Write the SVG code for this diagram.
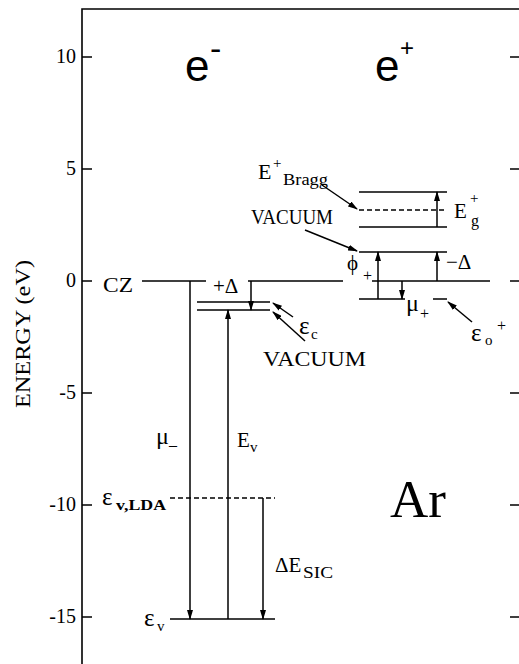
<svg xmlns="http://www.w3.org/2000/svg" width="519" height="664" viewBox="0 0 519 664">
<style>
.ln{stroke:#000;stroke-width:1.6;fill:none}
.dash{stroke:#000;stroke-width:1.5;fill:none;stroke-dasharray:5,3}
.ar{stroke:#000;stroke-width:1.5;fill:none;marker-end:url(#ah)}
.t{font-family:"Liberation Serif","Times New Roman",serif;fill:#000}
.s{font-family:"Liberation Sans",Arial,sans-serif;fill:#000}
.eps{font-family:"Liberation Serif","Times New Roman",serif;fill:#000;font-size:25px}
</style>
<defs>
<marker id="ah" viewBox="0 0 10 6" refX="9" refY="3" markerWidth="10" markerHeight="6" markerUnits="userSpaceOnUse" orient="auto"><path d="M0,0 L10,3 L0,6 z" fill="#000"/></marker>
</defs>
<rect width="519" height="664" fill="#fff"/>
<g id="axes">
<path class="ln" d="M82,664 V9 H519"/>
<path class="ln" d="M82,57 H92 M82,169 H92 M82,281 H92 M82,393 H92 M82,505 H92 M82,617 H92"/>
<path class="ln" d="M510,57 H519 M510,169 H519 M510,281 H519 M510,393 H519 M510,505 H519 M510,617 H519"/>
<g class="t" font-size="20" text-anchor="end">
<text x="76" y="63">10</text>
<text x="76" y="175">5</text>
<text x="76" y="287">0</text>
<text x="76" y="399">-5</text>
<text x="76" y="511">-10</text>
<text x="76" y="623">-15</text>
</g>
<text class="t" font-size="20" text-anchor="middle" transform="translate(30,334) rotate(-90)" textLength="148" lengthAdjust="spacingAndGlyphs">ENERGY (eV)</text>
</g>
<g id="title-eminus">
<text class="s" x="185" y="81" font-size="44">e</text>
<text class="s" x="210" y="60" font-size="34">-</text>
</g>
<g id="title-eplus">
<text class="s" x="375" y="81" font-size="44">e</text>
<text class="s" x="400" y="56" font-size="24">+</text>
</g>
<g id="label-Ar"><text class="t" x="390" y="517" font-size="53">Ar</text></g>
<g id="level-CZ">
<path class="ln" d="M142,281 H206 M248,281 H343"/>
<text class="t" x="103" y="292" font-size="21" textLength="30" lengthAdjust="spacingAndGlyphs">CZ</text>
<text class="t" x="213" y="293" font-size="21">+Δ</text>
</g>
<g id="level-eminus-eps-c"><path class="ln" d="M197,302 H270"/></g>
<g id="level-eminus-vacuum"><path class="ln" d="M197,310 H270"/></g>
<g id="label-eps-c">
<text class="eps" x="299" y="334">ε</text>
<text class="t" x="311" y="339" font-size="15">c</text>
</g>
<g id="label-eminus-vacuum"><text class="t" x="263" y="366" font-size="21" textLength="103" lengthAdjust="spacingAndGlyphs">VACUUM</text></g>
<g id="level-eps-v-LDA">
<path class="dash" d="M170,498 H275"/>
<text class="eps" x="102" y="505">ε</text>
<text class="t" x="116" y="510" font-size="15" font-weight="bold" textLength="50" lengthAdjust="spacingAndGlyphs">v,LDA</text>
</g>
<g id="level-eps-v">
<path class="ln" d="M170,619 H275"/>
<text class="eps" x="144" y="626">ε</text>
<text class="t" x="157" y="631" font-size="15">v</text>
</g>
<g id="label-mu-minus">
<text class="t" x="156" y="444" font-size="24">μ</text>
<text class="t" x="169" y="450" font-size="16">–</text>
</g>
<g id="label-Ev">
<text class="t" x="237" y="447" font-size="21">E</text>
<text class="t" x="250" y="452" font-size="15">v</text>
</g>
<g id="label-dE-SIC">
<text class="t" x="275" y="572" font-size="21">ΔE</text>
<text class="t" x="303" y="578" font-size="16" textLength="30" lengthAdjust="spacingAndGlyphs">SIC</text>
</g>
<g id="level-eplus-top"><path class="ln" d="M359,192 H447"/></g>
<g id="level-eplus-bragg"><path class="dash" d="M359,210 H447"/></g>
<g id="level-eplus-gap"><path class="ln" d="M359,227 H447"/></g>
<g id="level-eplus-vacuum"><path class="ln" d="M359,252 H447"/></g>
<g id="level-eplus-zero"><path class="ln" d="M372,281 H490"/></g>
<g id="level-eplus-bottom"><path class="ln" d="M359,299 H405 M433,299 H447"/></g>
<g id="label-Ebragg">
<text class="t" x="258" y="179" font-size="22">E</text>
<text class="t" x="273" y="168" font-size="15">+</text>
<text class="t" x="283" y="185" font-size="16" textLength="45" lengthAdjust="spacingAndGlyphs">Bragg</text>
</g>
<g id="label-eplus-vacuum"><text class="t" x="251" y="224" font-size="21" textLength="82" lengthAdjust="spacingAndGlyphs">VACUUM</text></g>
<g id="label-Eg">
<text class="t" x="454" y="218" font-size="21">E</text>
<text class="t" x="470" y="203" font-size="15">+</text>
<text class="t" x="471" y="226" font-size="16">g</text>
</g>
<g id="label-phi">
<text class="t" x="347" y="270" font-size="21">ϕ</text>
<text class="t" x="363" y="281" font-size="16">+</text>
</g>
<g id="label-minus-delta"><text class="t" x="446" y="269" font-size="21">−Δ</text></g>
<g id="label-mu-plus">
<text class="t" x="406" y="311" font-size="24">μ</text>
<text class="t" x="420" y="319" font-size="16">+</text>
</g>
<g id="label-eps-o">
<text class="eps" x="471" y="341">ε</text>
<text class="t" x="485" y="345" font-size="15">o</text>
<text class="t" x="497" y="331" font-size="16">+</text>
</g>
<g id="connectors">
<path class="ar" d="M190,281 V619"/>
<path class="ar" d="M228,619 V310"/>
<path class="ar" d="M251,281 V310"/>
<path class="ar" d="M263,498 V619"/>
<path class="ar" d="M293,317 L273,303"/>
<path class="ar" d="M305,341 L273,312"/>
<path class="ar" d="M322,185 L357,209"/>
<path class="ar" d="M305,230 L357,251"/>
<path class="ar" d="M378,299 V252"/>
<path class="ar" d="M402,281 V299"/>
<path class="ar" d="M437,281 V252"/>
<path class="ar" d="M437,227 V192"/>
<path class="ar" d="M472,322 L448,302"/>
</g>
</svg>
